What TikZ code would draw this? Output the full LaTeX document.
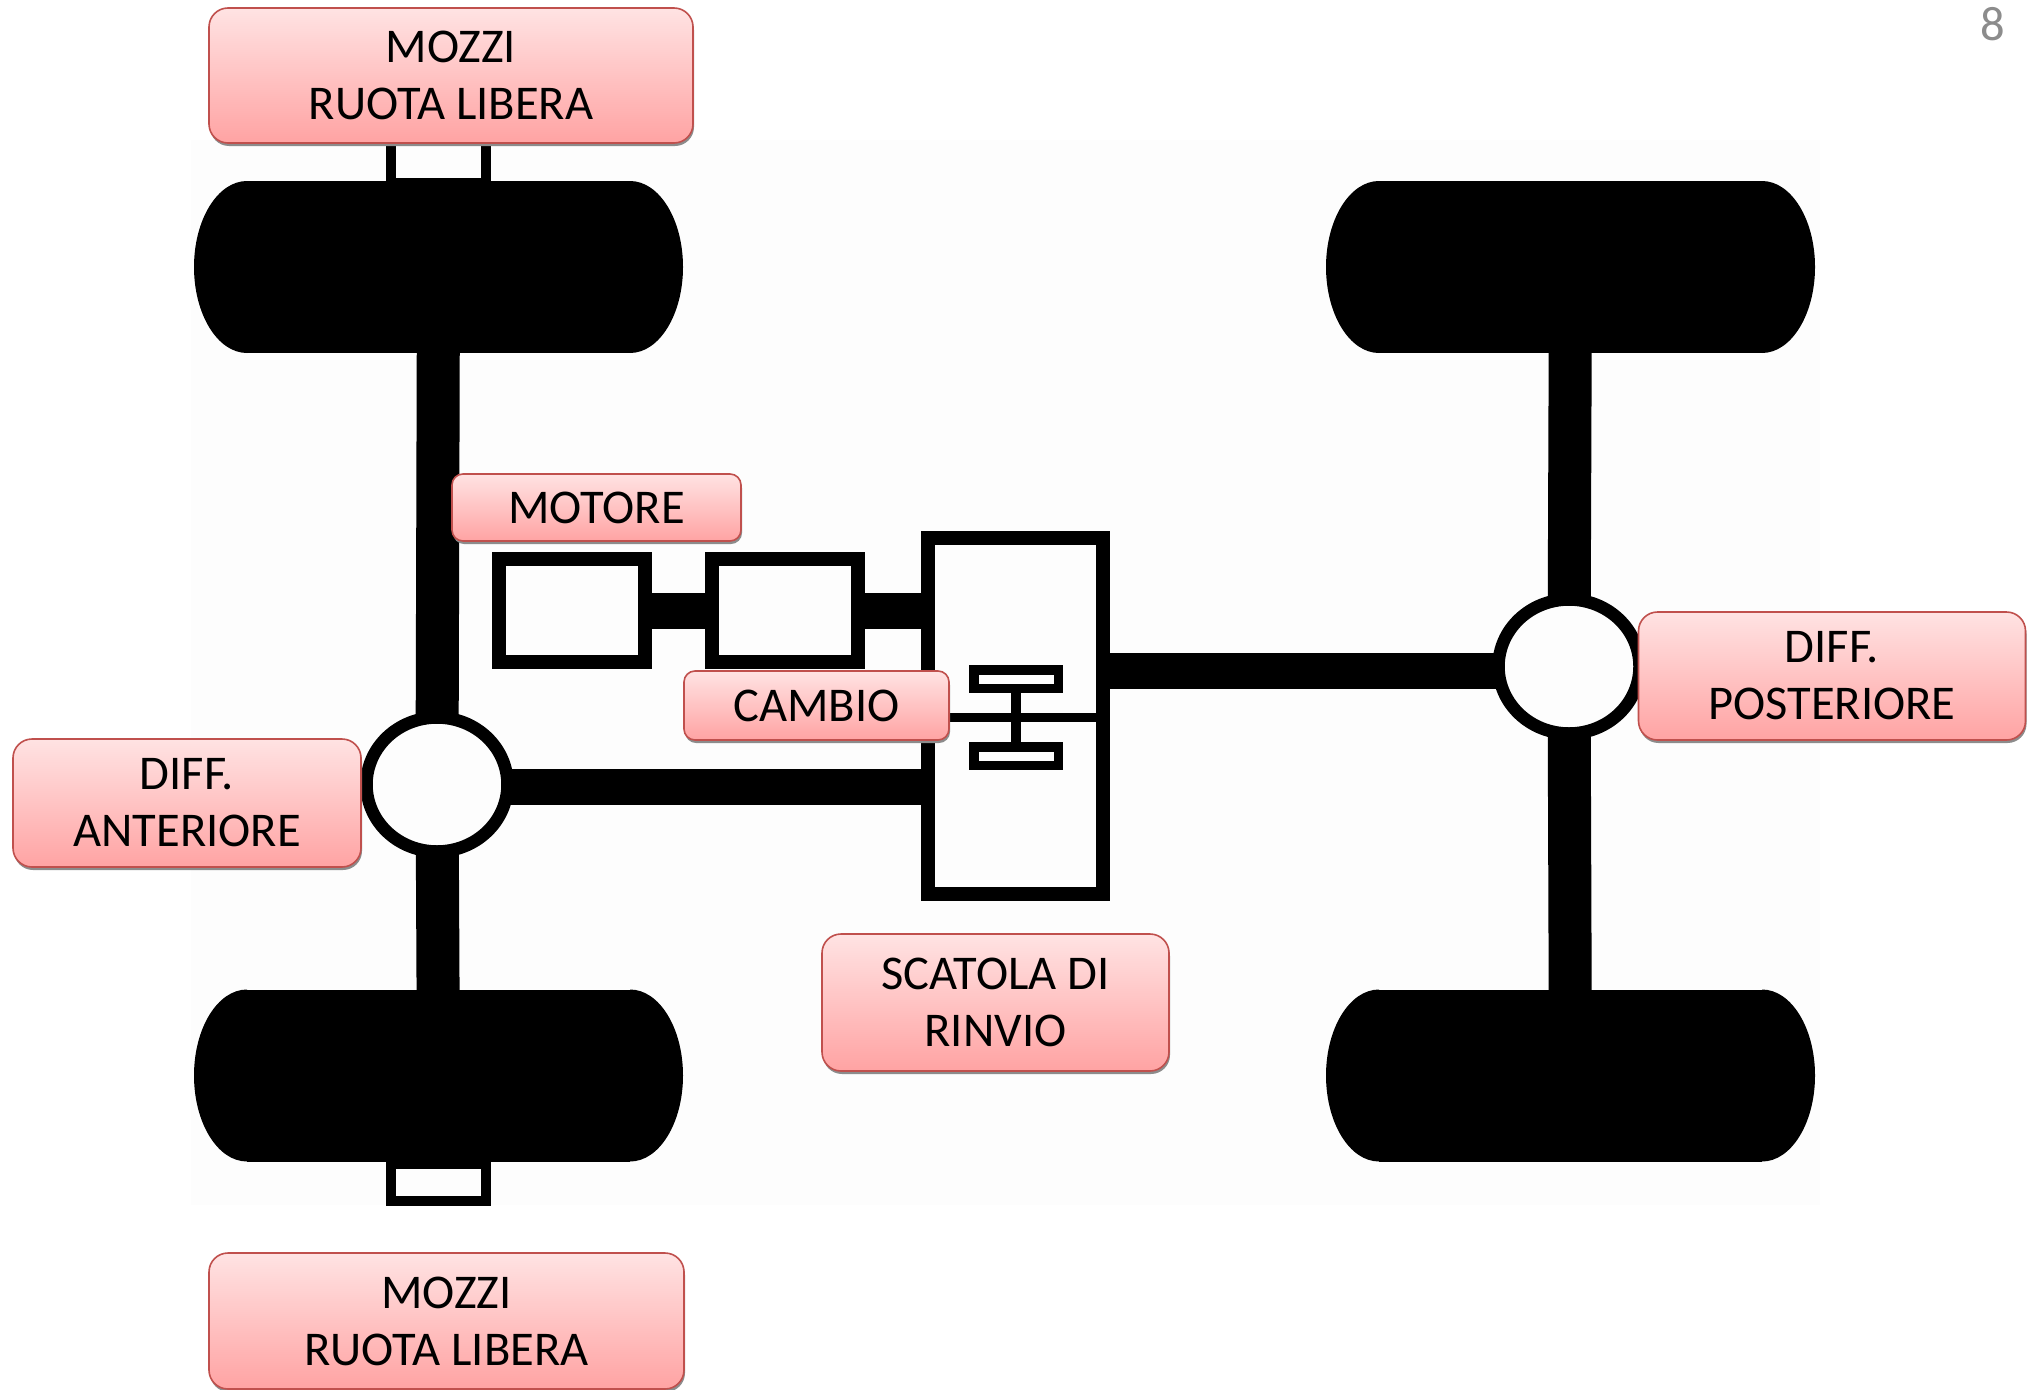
\documentclass[tikz,border=0pt]{standalone}
\usepackage{fontspec}
\setmainfont{Carlito}
\usepackage{xcolor}
\usetikzlibrary{positioning,backgrounds,shadows,shapes.geometric}
\definecolor{TagTop}{HTML}{FFE3E3}
\definecolor{TagBottom}{HTML}{FFA3A3}
\definecolor{TagRule}{HTML}{C0504D}
\definecolor{PlanPaper}{HTML}{FDFDFD}
\definecolor{PageGrey}{HTML}{8C8C8C}

\begin{document}
\begin{tikzpicture}[
  x=1pt,y=-1pt,
  tag/.style={draw=TagRule,line width=1.6pt,rounded corners=19pt,top color=TagTop,bottom color=TagBottom,inner sep=0pt,outer sep=0pt,align=center,font=\fontsize{48.5}{57}\selectfont,general shadow={shadow xshift=1pt,shadow yshift=-3pt,fill=black!45}},
  tagsmall/.style={tag,rounded corners=11pt},
  wheel/.style={fill=black,inner sep=0pt,outer sep=0pt,minimum width=383pt,minimum height=172pt},
  hub/.style={draw=black,fill=PlanPaper,line width=10pt,inner sep=0pt,outer sep=0pt,minimum width=95pt},
  diff/.style={draw=black,fill=PlanPaper,ellipse,line width=12.5pt,inner sep=0pt,outer sep=0pt,minimum width=141pt,minimum height=134pt},
  unit/.style={draw=black,fill=PlanPaper,line width=14pt,inner sep=0pt,outer sep=0pt,minimum width=146pt,minimum height=103.5pt},
  gear/.style={draw=black,fill=PlanPaper,line width=9.5pt,inner sep=0pt,outer sep=0pt,minimum width=84.5pt,minimum height=18.5pt},
  axle/.style={draw=black,line width=43pt},
  shaft/.style={draw=black,line width=36pt}
]
\useasboundingbox (0,0) rectangle (2036,1389);
\node[hub,minimum height=50pt] (hubtop) at (438.5,158) {};
\node[hub,minimum height=37pt] (hubbottom) at (438.5,1182) {};
\foreach \wheelname/\cx/\cy in {wheelFL/438.5/267,wheelRL/1570.5/267,wheelFR/438.5/1075.5,wheelRR/1570.5/1075.5}{
  \node[wheel] (\wheelname) at (\cx,\cy) {};
  \fill[black] (\wheelname.north west) arc[x radius=53pt,y radius=86pt,start angle=90,end angle=270];
  \fill[black] (\wheelname.north east) arc[x radius=53pt,y radius=86pt,start angle=90,end angle=-90];
}
\node[diff] (difffront) at (437,784.5) {};
\node[diff] (diffrear) at (1569,666.5) {};
\node[unit] (motor) at (572,610.5) {};
\node[unit,right=67pt of motor] (gearbox) {};
\node[draw=black,fill=PlanPaper,line width=14pt,inner sep=0pt,outer sep=0pt,minimum width=175pt,minimum height=356pt] (rinvio) at (1015.5,715.5) {};
\node[gear] (geartop) at (1016,679) {};
\node[gear] (gearbottom) at (1016,756) {};
\begin{scope}[on background layer]
\fill[PlanPaper] (191,140) rectangle (1820,1205);
\draw[axle] (wheelFL.center) -- (difffront.center);
\draw[axle] (wheelFR.center) -- (difffront.center);
\draw[axle] (wheelRL.center) -- (diffrear.center);
\draw[axle] (wheelRR.center) -- (diffrear.center);
\draw[shaft] (motor.center) -- (gearbox.center);
\draw[shaft] (gearbox.center) -- (gearbox.center -| rinvio.center);
\draw[shaft] ([yshift=-2.5pt]difffront.center) -- ([yshift=-2.5pt]difffront.center -| rinvio.center);
\draw[shaft] ([yshift=-4.5pt]diffrear.center) -- ([yshift=-4.5pt]diffrear.center -| rinvio.center);
\end{scope}
\draw[draw=black,line width=9pt] ([yshift=-2pt]rinvio.west) -- ([yshift=-2pt]rinvio.east);
\draw[draw=black,line width=10pt] (geartop) -- (gearbottom);
\node[tag,minimum width=484pt,minimum height=135pt] (mozzitop) at (451,75.5) {MOZZI\\RUOTA LIBERA};
\node[tag,minimum width=475pt,minimum height=136pt] (mozzibottom) at (446.5,1321) {MOZZI\\RUOTA LIBERA};
\node[tag,minimum width=348pt,minimum height=128pt] (labeldifffront) at (187,803) {DIFF.\\ANTERIORE};
\node[tag,minimum width=387pt,minimum height=128pt] (labeldiffrear) at (1832,676) {DIFF.\\POSTERIORE};
\node[tagsmall,minimum width=289pt,minimum height=67pt] (labelmotor) at (596.5,507.5) {MOTORE};
\node[tagsmall,minimum width=265pt,minimum height=69pt] (labelgearbox) at (816.5,705.5) {CAMBIO};
\node[tag,minimum width=347pt,minimum height=137pt] (labelrinvio) at (995.5,1002.5) {SCATOLA DI\\RINVIO};
\node[text=PageGrey,font=\fontsize{48.5}{57}\selectfont,inner sep=0pt] (pagina) at (1993,24) {8};
\end{tikzpicture}
\end{document}
